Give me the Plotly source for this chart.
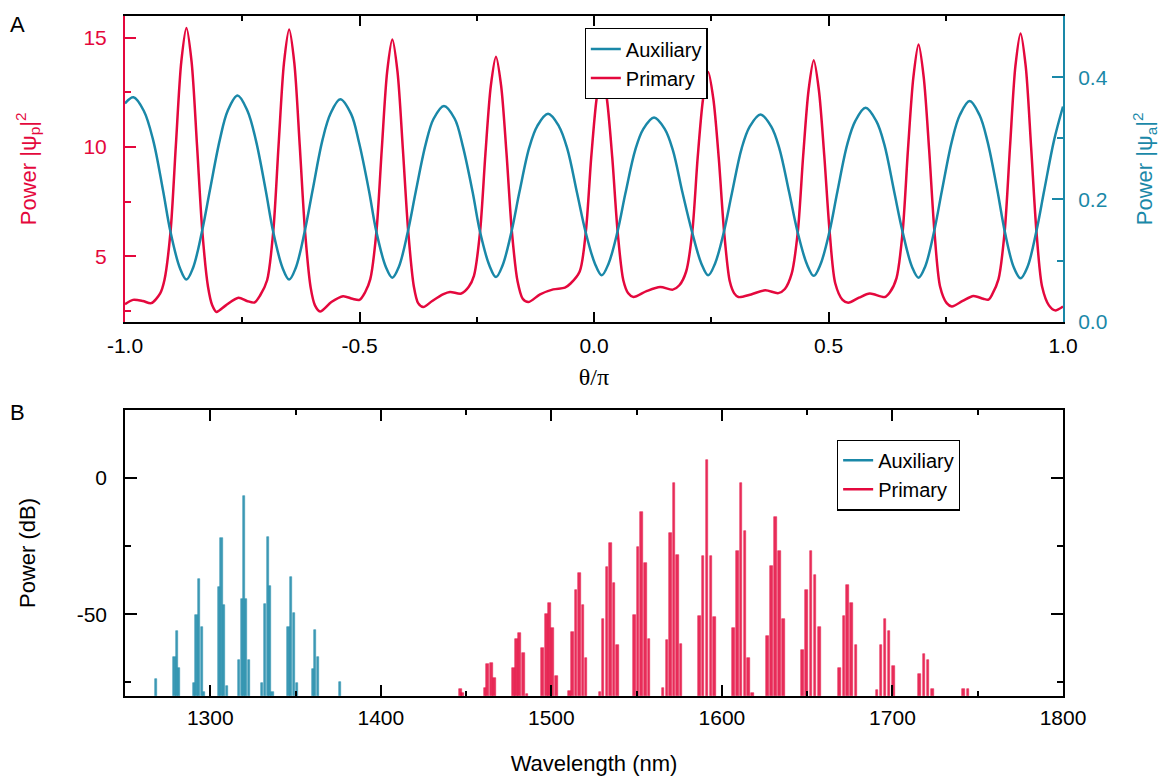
import plotly.graph_objects as go

RED = "#E4083D"
TEAL = "#1A88A8"
FONT = "Arial, Liberation Sans, sans-serif"

# ---------------- Panel A data ----------------
theta_aux = [-1.000, -0.982, -0.960, -0.940, -0.919, -0.903, -0.883, -0.869, -0.855, -0.836,
             -0.819, -0.798, -0.781, -0.760, -0.739, -0.721, -0.700, -0.684, -0.664, -0.650,
             -0.636, -0.617, -0.600, -0.579, -0.562, -0.541, -0.518, -0.501, -0.480, -0.464,
             -0.444, -0.430, -0.416, -0.397, -0.380, -0.359, -0.342, -0.320, -0.297, -0.280,
             -0.259, -0.243, -0.223, -0.209, -0.195, -0.176, -0.159, -0.138, -0.121, -0.098,
             -0.075, -0.057, -0.036, -0.018, 0.002, 0.0165, 0.031, 0.050, 0.067, 0.088,
             0.105, 0.128, 0.151, 0.168, 0.189, 0.209, 0.229, 0.2435, 0.258, 0.277,
             0.294, 0.315, 0.332, 0.355, 0.378, 0.395, 0.416, 0.434, 0.454, 0.4685,
             0.483, 0.502, 0.519, 0.540, 0.557, 0.579, 0.602, 0.619, 0.640, 0.658,
             0.678, 0.692, 0.706, 0.725, 0.742, 0.763, 0.780, 0.801, 0.822, 0.839,
             0.860, 0.876, 0.895, 0.9095, 0.924, 0.943, 0.960, 0.981, 1.000]
power_aux = [0.357, 0.367, 0.345, 0.297, 0.215, 0.147, 0.088, 0.069, 0.088, 0.147,
             0.215, 0.297, 0.345, 0.370, 0.345, 0.297, 0.215, 0.147, 0.088, 0.069,
             0.088, 0.147, 0.215, 0.297, 0.340, 0.364, 0.340, 0.293, 0.215, 0.147,
             0.090, 0.072, 0.090, 0.147, 0.213, 0.290, 0.332, 0.353, 0.332, 0.288,
             0.213, 0.147, 0.092, 0.073, 0.092, 0.147, 0.212, 0.285, 0.320, 0.340,
             0.320, 0.283, 0.210, 0.147, 0.095, 0.076, 0.095, 0.147, 0.210, 0.281,
             0.315, 0.334, 0.315, 0.281, 0.210, 0.147, 0.095, 0.076, 0.095, 0.147,
             0.210, 0.284, 0.319, 0.339, 0.319, 0.284, 0.212, 0.147, 0.094, 0.075,
             0.094, 0.147, 0.213, 0.290, 0.328, 0.350, 0.328, 0.290, 0.213, 0.147,
             0.090, 0.072, 0.090, 0.147, 0.215, 0.295, 0.338, 0.361, 0.338, 0.295,
             0.215, 0.147, 0.089, 0.071, 0.089, 0.147, 0.215, 0.297, 0.352]

theta_pri = [-1.000, -0.983, -0.962, -0.944, -0.925, -0.916, -0.903, -0.8915, -0.880, -0.869,
             -0.858, -0.8465, -0.835, -0.823, -0.814, -0.805, -0.785, -0.758, -0.740, -0.724,
             -0.712, -0.697, -0.684, -0.6725, -0.661, -0.650, -0.639, -0.6275, -0.616, -0.604,
             -0.595, -0.584, -0.560, -0.535, -0.515, -0.500, -0.488, -0.477, -0.464, -0.4525,
             -0.441, -0.430, -0.419, -0.4075, -0.396, -0.384, -0.375, -0.364, -0.345, -0.321,
             -0.307, -0.283, -0.267, -0.256, -0.243, -0.2315, -0.220, -0.209, -0.198, -0.1865,
             -0.175, -0.163, -0.152, -0.140, -0.115, -0.087, -0.062, -0.050, -0.0305, -0.0175,
             -0.006, 0.0055, 0.0165, 0.0275, 0.039, 0.0505, 0.0625, 0.073, 0.084, 0.112,
             0.141, 0.168, 0.182, 0.1965, 0.2095, 0.221, 0.2325, 0.2435, 0.2545, 0.266,
             0.2775, 0.2895, 0.299, 0.308, 0.335, 0.365, 0.393, 0.407, 0.4215, 0.4345,
             0.446, 0.4575, 0.4685, 0.4795, 0.491, 0.5025, 0.5145, 0.530, 0.542, 0.565,
             0.588, 0.620, 0.631, 0.645, 0.658, 0.6695, 0.681, 0.692, 0.703, 0.7145,
             0.726, 0.738, 0.752, 0.763, 0.786, 0.809, 0.830, 0.841, 0.849, 0.8625,
             0.8755, 0.887, 0.8985, 0.9095, 0.9205, 0.932, 0.9435, 0.9555, 0.970, 0.983,
             1.000]
power_pri = [2.80, 3.00, 2.95, 2.85, 3.30, 3.90, 6.10, 10.1, 13.9, 15.45,
             13.9, 10.1, 6.10, 3.60, 2.75, 2.45, 2.75, 3.10, 2.95, 2.88,
             3.20, 3.90, 6.10, 10.1, 13.85, 15.38, 13.85, 10.1, 6.10, 3.55,
             2.75, 2.47, 2.90, 3.17, 3.05, 3.00, 3.35, 3.95, 6.10, 9.9,
             13.45, 14.92, 13.45, 9.9, 6.10, 3.60, 2.85, 2.67, 2.95, 3.26,
             3.36, 3.29, 3.60, 4.10, 6.10, 9.7, 12.8, 14.13, 12.8, 9.7,
             6.10, 3.85, 3.05, 2.90, 3.25, 3.48, 3.56, 3.75, 4.30, 6.10,
             9.5, 12.2, 13.47, 12.2, 9.5, 6.10, 3.90, 3.30, 3.13, 3.40,
             3.59, 3.47, 3.67, 4.30, 6.10, 9.5, 12.2, 13.44, 12.2, 9.5,
             6.10, 3.85, 3.30, 3.13, 3.25, 3.44, 3.31, 3.50, 4.20, 6.10,
             9.6, 12.6, 13.97, 12.6, 9.6, 6.10, 3.75, 3.00, 2.87, 3.10,
             3.29, 3.13, 3.35, 4.00, 6.10, 9.9, 13.2, 14.69, 13.2, 9.9,
             6.10, 3.60, 2.85, 2.70, 2.95, 3.18, 3.05, 3.01, 3.25, 3.95,
             6.10, 10.0, 13.7, 15.20, 13.7, 10.0, 6.10, 3.60, 2.75, 2.52,
             2.70]

# ---------------- Panel B data ----------------
aux_wl = [1268.0, 1279.0, 1280.3, 1281.9, 1290.7, 1291.9, 1293.5, 1295.0, 1296.3,
          1305.0, 1306.6, 1308.0, 1309.6, 1317.0, 1318.5, 1319.9, 1321.2, 1322.8,
          1330.4, 1332.0, 1333.6, 1335.0, 1336.5, 1345.9, 1347.5, 1349.1, 1350.6,
          1360.0, 1361.6, 1363.2, 1376.3]
aux_db = [-73.6, -65.7, -56.0, -69.6, -75.4, -50.4, -37.1, -54.5, -78.5,
          -40.1, -22.1, -46.7, -76.4, -66.6, -44.4, -6.7, -44.4, -66.6,
          -75.4, -46.1, -21.5, -39.5, -78.5, -54.5, -36.4, -49.7, -75.2,
          -70.2, -55.7, -65.6, -75.0]

pri_wl = [1446.6, 1448.0, 1461.0, 1462.6, 1465.0, 1466.7, 1477.8, 1479.4, 1481.3, 1483.5,
          1485.6, 1494.9, 1497.0, 1498.8, 1500.8, 1502.9, 1510.6, 1512.3, 1514.5, 1516.6,
          1518.6, 1520.3, 1528.4, 1530.3, 1532.5, 1534.6, 1536.6, 1538.7, 1548.7, 1550.8,
          1553.0, 1555.2, 1557.3, 1565.5, 1567.7, 1569.8, 1571.8, 1574.0, 1576.1, 1586.7,
          1588.8, 1591.2, 1593.6, 1595.7, 1606.8, 1609.0, 1611.3, 1613.5, 1615.7, 1617.8,
          1626.8, 1629.2, 1631.5, 1633.9, 1636.0, 1647.4, 1649.7, 1652.3, 1654.6, 1657.2,
          1669.1, 1671.5, 1673.8, 1676.1, 1678.7, 1691.0, 1693.2, 1695.7, 1698.1, 1700.6,
          1715.7, 1718.4, 1720.9, 1723.5, 1741.7, 1744.3]
pri_db = [-77.5, -79.0, -77.1, -68.1, -67.9, -73.5, -69.6, -59.0, -56.8, -64.3,
          -79.3, -62.5, -49.9, -45.7, -55.2, -72.5, -78.3, -56.4, -41.1, -34.7,
          -46.5, -66.2, -78.6, -51.7, -32.7, -23.7, -38.4, -61.3, -50.4, -25.3,
          -12.6, -31.2, -59.2, -76.9, -59.6, -20.2, -1.8, -28.2, -60.8, -50.7,
          -28.6, 6.5, -28.5, -51.1, -55.0, -26.8, -1.7, -19.5, -66.2, -79.0,
          -58.1, -32.2, -14.1, -26.8, -51.7, -63.0, -41.1, -26.6, -35.6, -54.6,
          -69.8, -50.7, -39.3, -45.7, -61.1, -77.8, -61.1, -51.8, -56.1, -68.8,
          -71.8, -64.7, -66.8, -77.5, -77.4, -77.6]
DB_FLOOR = -80

# tick labels
xa_vals = [-1.0, -0.5, 0.0, 0.5, 1.0]
xa_text = ["-1.0", "-0.5", "0.0", "0.5", "1.0"]
ya_vals = [5, 10, 15]
ya_text = ["5", "10", "15"]
ya2_vals = [0.0, 0.2, 0.4]
ya2_text = ["0.0", "0.2", "0.4"]
xb_vals = [1300, 1400, 1500, 1600, 1700, 1800]
xb_text = ["1300", "1400", "1500", "1600", "1700", "1800"]
yb_vals = [0, -50]
yb_text = ["0", "-50"]

fig = go.Figure()

# Panel A
fig.add_trace(go.Scatter(x=theta_aux, y=power_aux, mode="lines", name="Auxiliary",
                         line=dict(color=TEAL, width=2.5, shape="spline", smoothing=1.0),
                         xaxis="x", yaxis="y2", legend="legend"))
fig.add_trace(go.Scatter(x=theta_pri, y=power_pri, mode="lines", name="Primary",
                         line=dict(color=RED, width=2.5, shape="spline", smoothing=0.8),
                         xaxis="x", yaxis="y", legend="legend"))

# Panel B
fig.add_trace(go.Bar(x=aux_wl, y=[d - DB_FLOOR for d in aux_db], base=DB_FLOOR, width=1.25,
                     marker=dict(color=TEAL, opacity=0.85, line=dict(color=TEAL, width=0.6)),
                     xaxis="x2", yaxis="y3", showlegend=False, name="Auxiliary"))
fig.add_trace(go.Bar(x=pri_wl, y=[d - DB_FLOOR for d in pri_db], base=DB_FLOOR, width=1.5,
                     marker=dict(color=RED, opacity=0.85, line=dict(color=RED, width=0.6)),
                     xaxis="x2", yaxis="y3", showlegend=False, name="Primary"))
fig.add_trace(go.Scatter(x=[None], y=[None], mode="lines", name="Auxiliary",
                         line=dict(color=TEAL, width=2.5), xaxis="x2", yaxis="y3", legend="legend2"))
fig.add_trace(go.Scatter(x=[None], y=[None], mode="lines", name="Primary",
                         line=dict(color=RED, width=2.5), xaxis="x2", yaxis="y3", legend="legend2"))

TICKSIZE = 21
tickfont = dict(family=FONT, size=TICKSIZE, color="black")

# The page body adds an 8 px offset, so the figure is 8 px smaller and margins shifted.
fig.update_layout(
    width=1161, height=775,
    margin=dict(l=117, r=106, t=8, b=87),
    paper_bgcolor="white", plot_bgcolor="white",
    barmode="overlay", bargap=0,
    font=dict(family=FONT, size=20, color="black"),
    xaxis=dict(domain=[0, 1], anchor="y", range=[-1, 1], automargin=False,
               tickmode="array", tickvals=xa_vals, ticktext=xa_text,
               ticks="inside", ticklen=10, tickwidth=1.5, tickcolor="black",
               minor=dict(tickmode="linear", tick0=-1, dtick=0.25, ticks="inside",
                          ticklen=5, tickwidth=1.5, tickcolor="black"),
               showline=True, linecolor="black", linewidth=1.5, mirror="ticks",
               showgrid=False, zeroline=False, tickfont=tickfont, ticklabelstandoff=4,
               title=dict(text="θ/π", font=dict(family="Liberation Serif, Times New Roman, serif",
                                                size=24, color="black"), standoff=13)),
    yaxis=dict(domain=[0.5504, 1], anchor="x", range=[2, 16], automargin=False,
               tickmode="array", tickvals=ya_vals, ticktext=ya_text,
               ticks="inside", ticklen=11, tickwidth=1.5, tickcolor=RED,
               minor=dict(tickmode="linear", tick0=0, dtick=2.5, ticks="inside",
                          ticklen=6, tickwidth=1.5, tickcolor=RED),
               showline=True, linecolor=RED, linewidth=2, mirror=False,
               showgrid=False, zeroline=False,
               tickfont=dict(family=FONT, size=TICKSIZE, color=RED), ticklabelstandoff=12,
               title=dict(text="Power |ψ<sub>p</sub>|<sup>2</sup>",
                          font=dict(family=FONT, size=22, color=RED), standoff=41)),
    yaxis2=dict(overlaying="y", side="right", anchor="x", range=[0, 0.5], automargin=False,
                tickmode="array", tickvals=ya2_vals, ticktext=ya2_text,
                ticks="inside", ticklen=11, tickwidth=1.5, tickcolor=TEAL,
                minor=dict(tickmode="linear", tick0=0, dtick=0.1, ticks="inside",
                           ticklen=6, tickwidth=1.5, tickcolor=TEAL),
                showline=True, linecolor=TEAL, linewidth=2,
                showgrid=False, zeroline=False,
                tickfont=dict(family=FONT, size=TICKSIZE, color=TEAL), ticklabelstandoff=9,
                title=dict(text="Power |ψ<sub>a</sub>|<sup>2</sup>",
                           font=dict(family=FONT, size=22, color=TEAL), standoff=30)),
    xaxis2=dict(domain=[0, 1], anchor="y3", range=[1250, 1800], automargin=False,
                tickmode="array", tickvals=xb_vals, ticktext=xb_text,
                ticks="inside", ticklen=11, tickwidth=1.5, tickcolor="black",
                minor=dict(tickmode="linear", tick0=1250, dtick=50, ticks="inside",
                           ticklen=5, tickwidth=1.5, tickcolor="black"),
                showline=True, linecolor="black", linewidth=1.5, mirror="ticks",
                showgrid=False, zeroline=False, tickfont=tickfont, ticklabelstandoff=2,
                title=dict(text="Wavelength (nm)", font=dict(family=FONT, size=22, color="black"),
                           standoff=28)),
    yaxis3=dict(domain=[0, 0.4206], anchor="x2", range=[-80, 25], automargin=False,
                tickmode="array", tickvals=yb_vals, ticktext=yb_text,
                ticks="inside", ticklen=12, tickwidth=1.5, tickcolor="black",
                minor=dict(tickmode="linear", tick0=0, dtick=25, ticks="inside",
                           ticklen=6, tickwidth=1.5, tickcolor="black"),
                showline=True, linecolor="black", linewidth=1.5, mirror="ticks",
                showgrid=False, zeroline=False, tickfont=tickfont, ticklabelstandoff=12,
                title=dict(text="Power (dB)", font=dict(family=FONT, size=22, color="black"),
                           standoff=35)),
    legend=dict(x=0.490, y=0.982, xanchor="left", yanchor="top",
                bgcolor="white", bordercolor="black", borderwidth=1.2,
                font=dict(family=FONT, size=20, color="black"),
                itemwidth=30, tracegroupgap=0),
    legend2=dict(x=0.759, y=0.377, xanchor="left", yanchor="top",
                 bgcolor="white", bordercolor="black", borderwidth=1.2,
                 font=dict(family=FONT, size=20, color="black"),
                 itemwidth=30, tracegroupgap=0),
    annotations=[
        dict(text="A", x=-0.115, y=1.008, xref="paper", yref="paper", showarrow=False,
             xanchor="center", yanchor="top", borderpad=0,
             font=dict(family=FONT, size=22, color="black")),
        dict(text="B", x=-0.115, y=0.437, xref="paper", yref="paper", showarrow=False,
             xanchor="center", yanchor="top", borderpad=0,
             font=dict(family=FONT, size=22, color="black")),
    ],
)

fig.write_html("out.html")
